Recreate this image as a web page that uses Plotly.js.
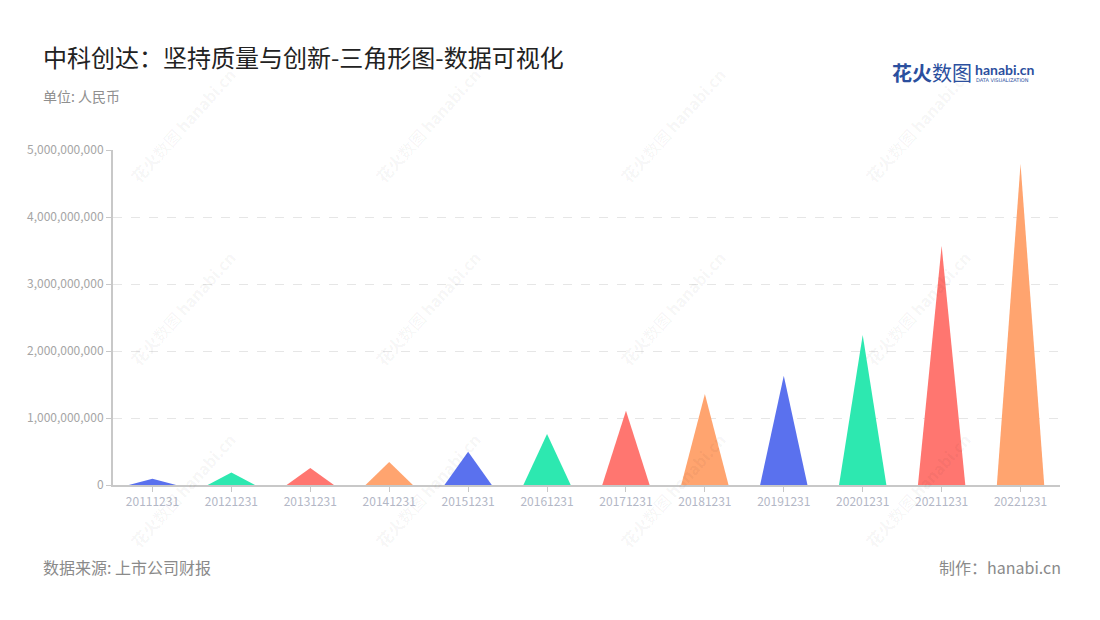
<!DOCTYPE html>
<html>
<head>
<meta charset="utf-8">
<script src="https://cdn.plot.ly/plotly-3.0.1.min.js"></script>
<style>
html,body{margin:0;padding:0;background:#fff;}
#chart{width:1100px;height:620px;}
</style>
</head>
<body>
<div id="chart"></div>
<script>
// Data
const categories = ["20111231","20121231","20131231","20141231","20151231","20161231","20171231","20181231","20191231","20201231","20211231","20221231"];
const values = [95000000, 185000000, 255000000, 345000000, 495000000, 760000000, 1110000000, 1360000000, 1630000000, 2240000000, 3570000000, 4790000000];
const yTicks = [0, 1000000000, 2000000000, 3000000000, 4000000000, 5000000000];

// Style
const palette = ["#5a71ee", "#2de8b0", "#ff7670", "#ffa46f"];
const halfWidth = 0.3;
const FONT = "Noto Sans CJK SC, Noto Sans, sans-serif";

const traces = categories.map((c, i) => ({
  type: "scatter",
  x: [i - halfWidth, i, i + halfWidth, i - halfWidth],
  y: [0, values[i], 0, 0],
  mode: "lines",
  fill: "toself",
  fillcolor: palette[i % palette.length],
  line: {width: 0, color: palette[i % palette.length]},
  hoverinfo: "text",
  text: c + ": " + values[i].toLocaleString("en-US"),
  showlegend: false
}));

const annotations = [];
const pxX = x => (x - 113) / 947;
const pxY = y => (485 - y) / 335;
// watermarks
const wmX = [183, 428, 673, 918];
const wmY = [125, 308, 490];
wmX.forEach(x => wmY.forEach(y => {
  annotations.push({
    xref: "paper", yref: "paper",
    x: pxX(x), y: pxY(y),
    text: "<b>花火</b>数图 <b>hanabi.cn</b>",
    showarrow: false, textangle: -48,
    font: {family: FONT, size: 16, color: "rgba(0,0,0,0.05)"},
    xanchor: "center", yanchor: "middle"
  });
}));

annotations.push(
  {xref:"paper", yref:"paper", x:pxX(41), y:pxY(56), xanchor:"left", yanchor:"middle", showarrow:false,
   text:"中科创达：坚持质量与创新-三角形图-数据可视化", font:{family:FONT, size:24, color:"#222"}},
  {xref:"paper", yref:"paper", x:pxX(41), y:pxY(96), xanchor:"left", yanchor:"middle", showarrow:false,
   text:"单位: 人民币", font:{family:FONT, size:14, color:"#8f8f8f"}},
  {xref:"paper", yref:"paper", x:pxX(41), y:pxY(567), xanchor:"left", yanchor:"middle", showarrow:false,
   text:"数据来源: 上市公司财报", font:{family:FONT, size:16, color:"#8a8a8a"}},
  {xref:"paper", yref:"paper", x:pxX(1063), y:pxY(567), xanchor:"right", yanchor:"middle", showarrow:false,
   text:"制作：hanabi.cn", font:{family:FONT, size:16, color:"#8a8a8a"}},
  // logo
  {xref:"paper", yref:"paper", x:pxX(890), y:pxY(73), xanchor:"left", yanchor:"middle", showarrow:false,
   text:"<b>花火</b>数图", font:{family:FONT, size:20, color:"#2b4f9e"}},
  {xref:"paper", yref:"paper", x:pxX(973), y:pxY(70), xanchor:"left", yanchor:"middle", showarrow:false,
   text:"<b>hanabi.cn</b>", font:{family:"Lato, sans-serif", size:14, color:"#2b4f9e"}},
  {xref:"paper", yref:"paper", x:pxX(974), y:pxY(80), xanchor:"left", yanchor:"middle", showarrow:false,
   text:"DATA VISUALIZATION", font:{family:"DejaVu Sans, sans-serif", size:5, color:"#2b4f9e"}}
);

const layout = {
  width: 1100, height: 620,
  margin: {l: 113, r: 40, t: 150, b: 135},
  paper_bgcolor: "#fff", plot_bgcolor: "#fff",
  showlegend: false,
  xaxis: {
    range: [-0.5, categories.length - 0.5],
    tickmode: "array",
    tickvals: categories.map((c, i) => i),
    ticktext: categories,
    showgrid: false, zeroline: false,
    showline: true, linecolor: "#c8c8c8", linewidth: 2,
    ticks: "outside", ticklen: 5, tickcolor: "#c8c8c8",
    tickfont: {family: FONT, size: 12, color: "#b3b7c6"},
    fixedrange: true
  },
  yaxis: {
    range: [0, 5000000000],
    tickmode: "array",
    tickvals: yTicks,
    ticktext: yTicks.map(v => v.toLocaleString("en-US")),
    showgrid: true, gridcolor: "#e6e6e6", griddash: "dash", gridwidth: 1,
    zeroline: false,
    showline: true, linecolor: "#c8c8c8", linewidth: 2,
    ticks: "outside", ticklen: 5, tickcolor: "#c8c8c8",
    tickfont: {family: FONT, size: 12, color: "#a5a5a5"},
    fixedrange: true
  },
  annotations: annotations
};

Plotly.newPlot("chart", traces, layout, {displayModeBar: false, staticPlot: true});
</script>
</body>
</html>
